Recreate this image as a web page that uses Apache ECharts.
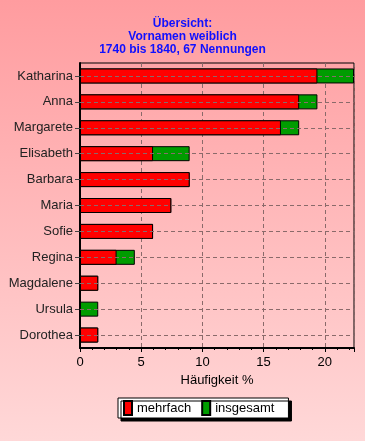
<!DOCTYPE html>
<html><head><meta charset="utf-8">
<script src="https://cdn.jsdelivr.net/npm/echarts@6/dist/echarts.min.js"></script>
<style>html,body{margin:0;padding:0;}#c{width:365px;height:441px;}</style>
</head><body><div id="c"></div>
<script>
const categories = ['Katharina','Anna','Margarete','Elisabeth','Barbara','Maria','Sofie','Regina','Magdalene','Ursula','Dorothea'];
const mehrfach = [19.40, 17.91, 16.42, 5.97, 8.96, 7.46, 5.97, 2.99, 1.49, 0, 1.49];
const insgesamt = [22.39, 19.40, 17.91, 8.96, 8.96, 7.46, 5.97, 4.48, 1.49, 1.49, 1.49];
const xTicks = [0, 5, 10, 15, 20];
const titleLines = ['Übersicht:', 'Vornamen weiblich', '1740 bis 1840, 67 Nennungen'];

const chart = echarts.init(document.getElementById('c'), null, {renderer:'canvas'});
const font = 'Liberation Sans, Arial, sans-serif';
chart.setOption({
  animation: false,
  backgroundColor: {type:'linear', x:0, y:0, x2:0, y2:1, colorStops:[{offset:0, color:'#ff9c9f'},{offset:1, color:'#ffd8d8'}]},
  textStyle: {fontFamily: font},
  title: {
    text: titleLines.join('\n'),
    left: 'center', top: 12,
    textStyle: {color:'#1010ff', fontSize:12, fontWeight:'bold', lineHeight:13, fontFamily: font}
  },
  grid: {left:80, right:11, top:63, bottom:93, show:true, borderColor:'#000', borderWidth:1, backgroundColor:'transparent'},
  legend: {
    data: ['mehrfach','insgesamt'],
    left: 118, top: 398, width: 169,
    backgroundColor:'#fff', borderColor:'#000', borderWidth:1,
    shadowColor:'#000', shadowBlur:0, shadowOffsetX:3, shadowOffsetY:3,
    padding:[2,14,2,5], itemGap:10,
    icon:'rect', itemWidth:8, itemHeight:14,
    textStyle:{fontSize:13, color:'#000', fontFamily: font}
  },
  xAxis: {
    type:'value', min:0, max:22.39, interval:5,
    name:'Häufigkeit %', nameLocation:'middle', nameGap:25,
    nameTextStyle:{fontSize:13, color:'#000', fontFamily: font},
    axisLine:{show:true, lineStyle:{color:'#000', width:2}},
    axisTick:{show:true, length:4, lineStyle:{color:'#000'}},
    minorTick:{show:true, splitNumber:5, length:2, lineStyle:{color:'#000'}},
    axisLabel:{fontSize:13, color:'#000', margin:8, formatter: v => xTicks.includes(v) ? String(v) : ''},
    splitLine:{show:true, lineStyle:{color:'#8a6a6a', type:[4,3], width:1}}
  },
  yAxis: {
    type:'category', data: categories, inverse:true,
    axisLine:{show:true, lineStyle:{color:'#000', width:2}},
    axisTick:{show:true, alignWithLabel:true, length:5, lineStyle:{color:'#444'}},
    axisLabel:{fontSize:13, color:'#222', margin:7},
    splitLine:{show:false}
  },
  series: [
    {
      name:'gridlines', type:'line', data:[], z:1, silent:true,
      markLine:{
        symbol:'none', silent:true, label:{show:false},
        lineStyle:{color:'#8a6a6a', type:[4,3], width:1},
        data: categories.map(c => ({yAxis: c}))
      }
    },
    {
      name:'insgesamt', type:'bar', data: insgesamt, barWidth:15, z:2,
      itemStyle:{color:'#009c00', borderColor:'#000', borderWidth:1}
    },
    {
      name:'mehrfach', type:'bar', data: mehrfach, barWidth:15, barGap:'-100%', z:3,
      itemStyle:{color:'#ff0000', borderColor:'#000', borderWidth:1}
    }
  ]
});
</script></body></html>
